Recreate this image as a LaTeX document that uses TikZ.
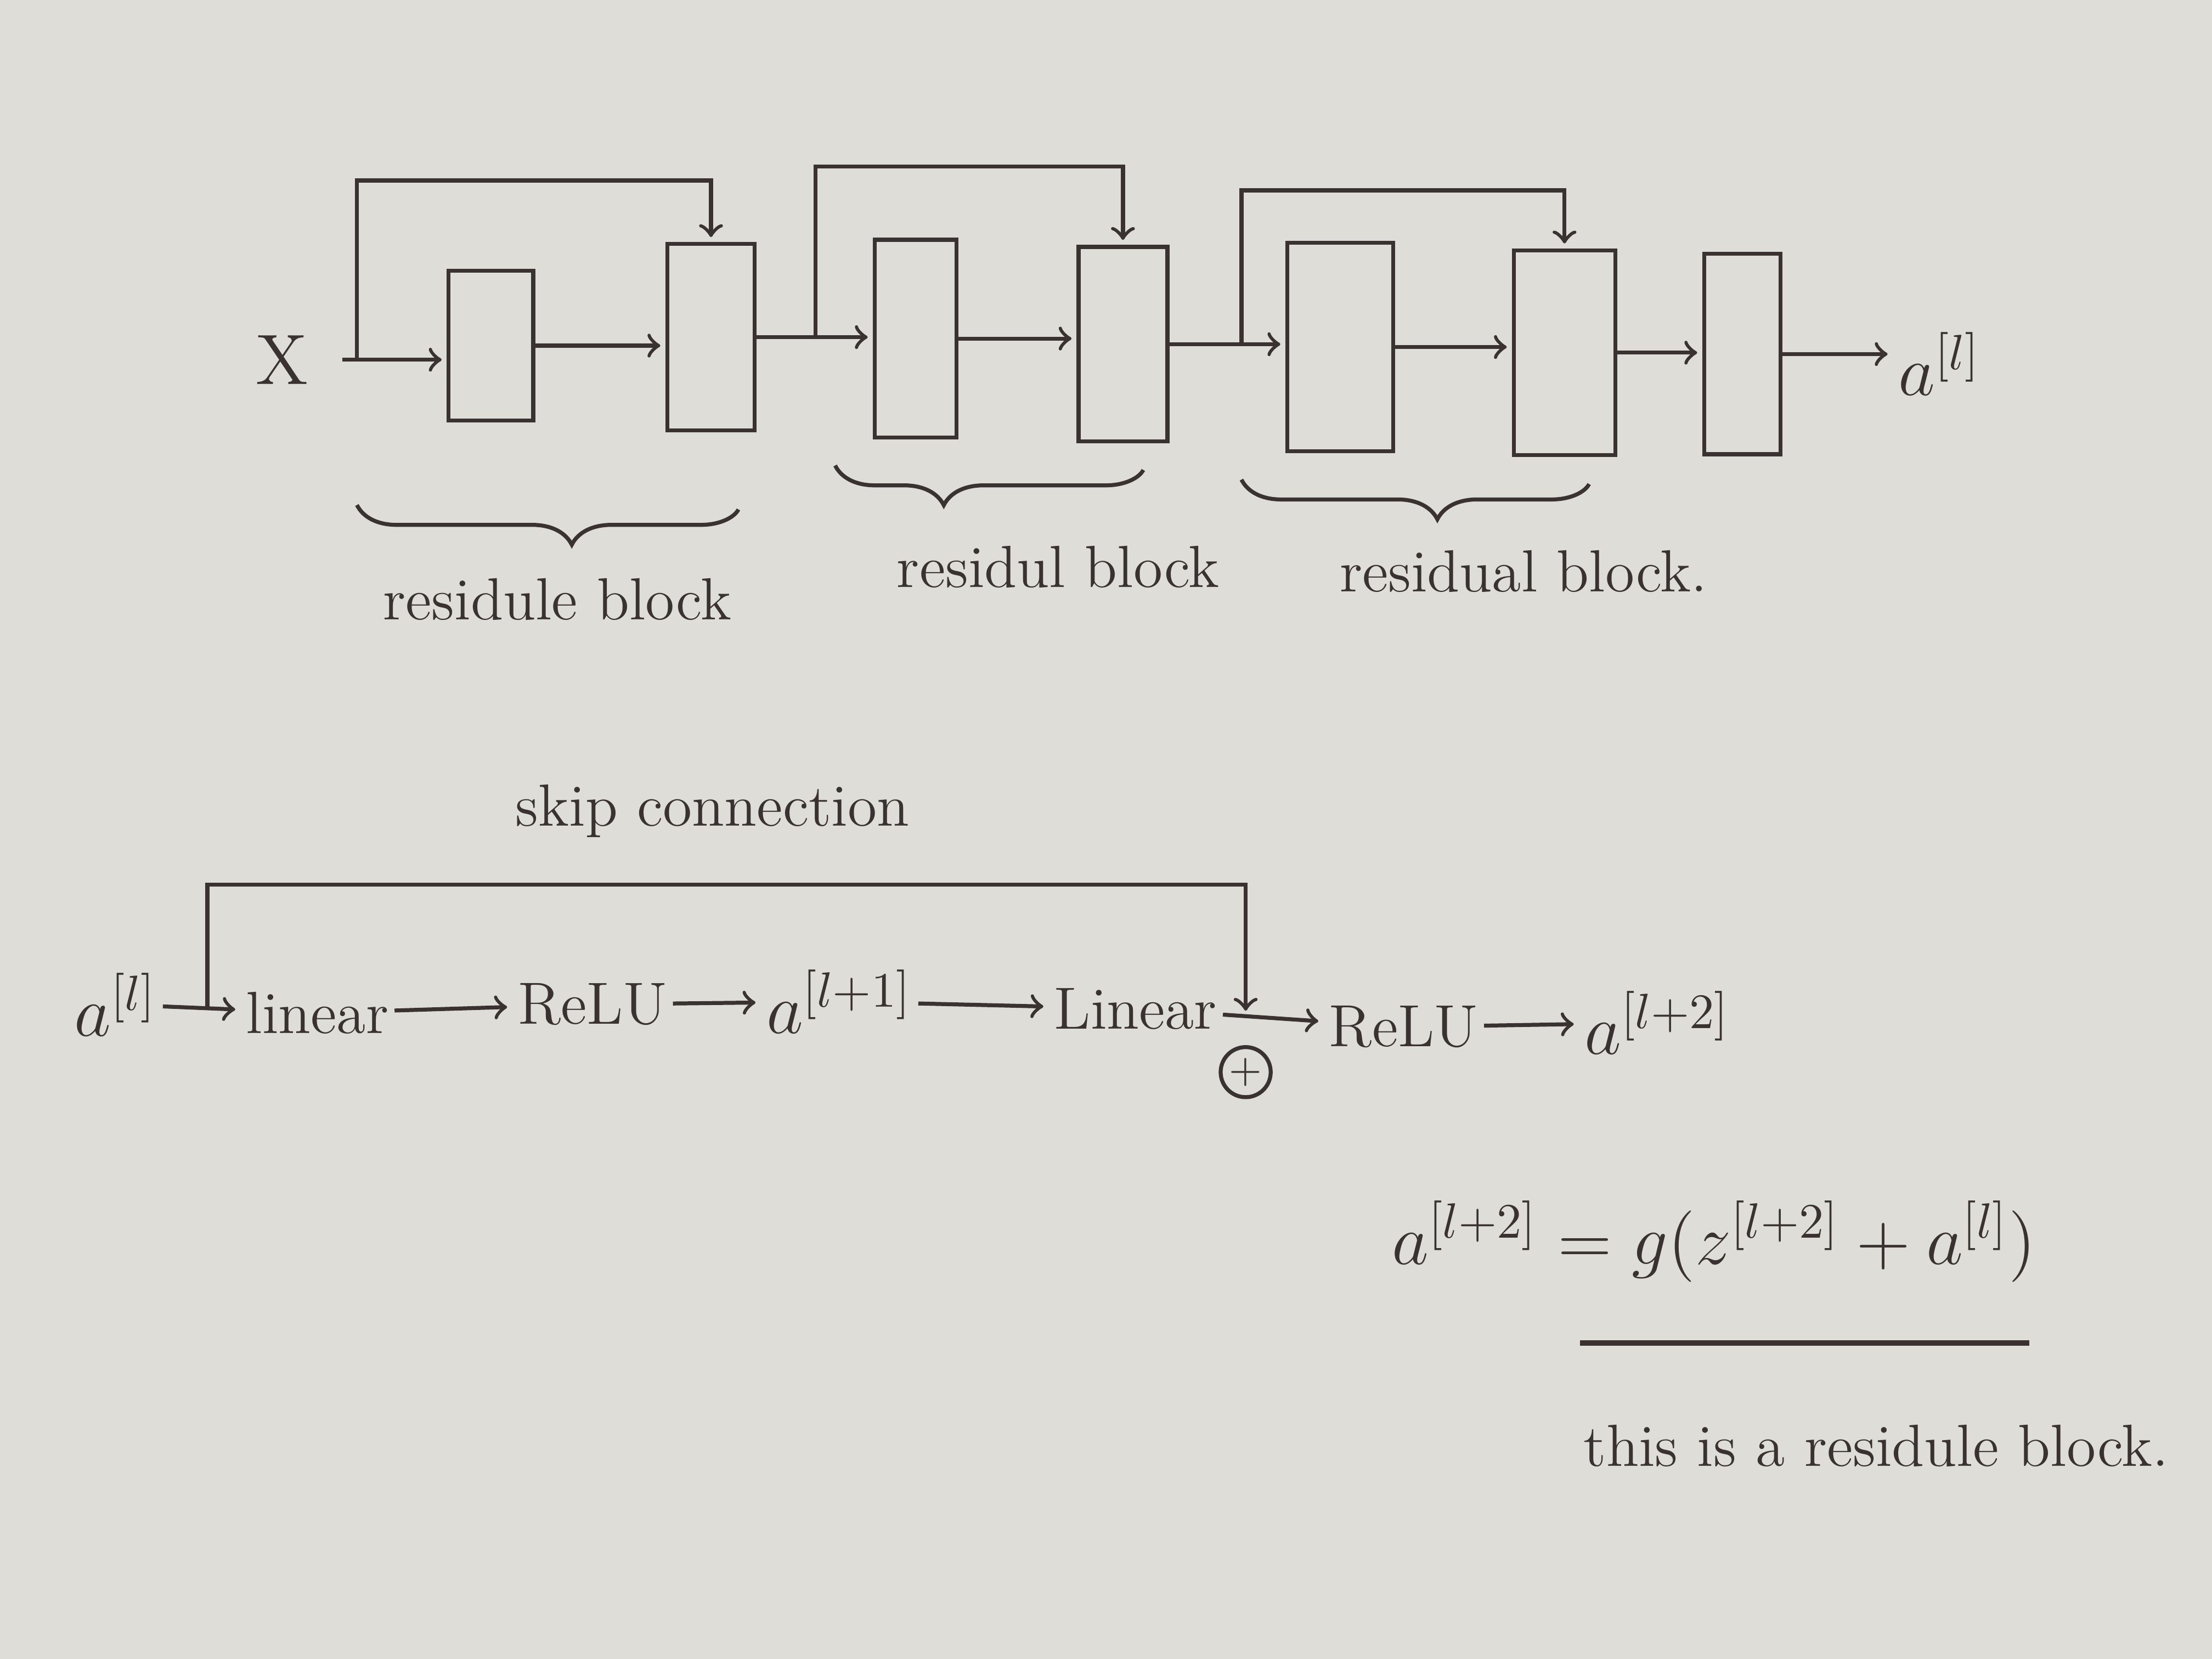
\documentclass[tikz,border=0pt]{standalone}
\usetikzlibrary{decorations.pathreplacing}
\definecolor{ink}{RGB}{58,50,48}
\definecolor{paper}{RGB}{222,221,215}
\begin{document}
\begin{tikzpicture}[shorten >=1pt,->,draw=ink,text=ink]
        \tikzstyle{block}=[rectangle,thick,draw=ink,minimum width=6mm,minimum height=12mm]
        \tikzstyle{edge}=[thick]
        \tikzstyle{word}=[font=\large,inner sep=1pt]
        \tikzstyle{curly}=[draw,thick,-,decorate,decoration={brace,mirror,amplitude=8pt}]
        \fill[paper] (0,0) rectangle (15.68,-11.76);
        \useasboundingbox (0,0) rectangle (15.68,-11.76);
       % stacked residual blocks
       \begin{scope}
         \node [word,font=\Large] (x) at (2.0,-2.55) {X};
         \node [block,minimum width=6.0mm,minimum height=10.6mm] (b1) at (3.48,-2.45) {};
         \node [block,minimum width=6.2mm,minimum height=13.2mm] (b2) at (5.04,-2.39) {};
         \node [block,minimum width=5.8mm,minimum height=14.0mm] (b3) at (6.49,-2.40) {};
         \node [block,minimum width=6.3mm,minimum height=13.8mm] (b4) at (7.96,-2.44) {};
         \node [block,minimum width=7.5mm,minimum height=14.8mm] (b5) at (9.50,-2.46) {};
         \node [block,minimum width=7.2mm,minimum height=14.5mm] (b6) at (11.09,-2.50) {};
         \node [block,minimum width=5.4mm,minimum height=14.2mm] (b7) at (12.35,-2.51) {};
         \node [word,font=\Large] (aout) at (13.75,-2.58) {$a^{[l]}$};

         \path[edge] ([xshift=2mm]x.east) edge (x.east -| b1.west);
         \path[edge] (b1.east) edge (b1.east -| b2.west);
         \path[edge] (b2.east) edge (b2.east -| b3.west);
         \path[edge] (b3.east) edge (b3.east -| b4.west);
         \path[edge] (b4.east) edge (b4.east -| b5.west);
         \path[edge] (b5.east) edge (b5.east -| b6.west);
         \path[edge] (b6.east) edge (b6.east -| b7.west);
         \path[edge] (b7.east) edge (b7.east -| aout.west);

         \coordinate (s1) at (2.53,-2.55);
         \coordinate (t1) at (2.53,-1.28);
         \coordinate (s2) at (5.78,-2.39);
         \coordinate (t2) at (5.78,-1.18);
         \coordinate (s3) at (8.80,-2.44);
         \coordinate (t3) at (8.80,-1.35);
         \draw[edge] (s1) -- (t1) -| (b2.north);
         \draw[edge] (s2) -- (t2) -| (b4.north);
         \draw[edge] (s3) -- (t3) -| (b6.north);

         \draw[curly,decoration={aspect=0.56}] (2.53,-3.58) -- (5.25,-3.58);
         \draw[curly,decoration={aspect=0.35}] (5.92,-3.30) -- (8.12,-3.30);
         \draw[curly,decoration={aspect=0.56}] (8.80,-3.40) -- (11.28,-3.40);
         \node [word] (r1) at (3.95,-4.25) {residule block};
         \node [word] (r2) at (7.50,-4.02) {residul block};
         \node [word] (r3) at (10.80,-4.05) {residual block.};
        \end{scope}
       % one residual block in detail
       \begin{scope}
         \node [word,font=\Large] (a0) at (0.82,-7.12) {$a^{[l]}$};
         \node [word] (lin1) at (2.25,-7.18) {linear};
         \node [word] (relu1) at (4.20,-7.12) {ReLU};
         \node [word,font=\Large] (a1) at (5.95,-7.10) {$a^{[l+1]}$};
         \node [word] (lin2) at (8.05,-7.15) {Linear};
         \node [word] (relu2) at (9.95,-7.28) {ReLU};
         \node [word,font=\Large] (a2) at (11.75,-7.25) {$a^{[l+2]}$};
         \node [circle,thick,draw=ink,inner sep=0.5pt,font=\footnotesize] (plus) at (8.83,-7.60) {$+$};
         \node [word] (skiplbl) at (5.05,-5.75) {skip connection};

         \path[edge] (a0) edge (lin1);
         \path[edge] (lin1) edge (relu1);
         \path[edge] (relu1) edge (a1);
         \path[edge] (a1) edge (lin2);
         \path[edge] (lin2) edge (relu2);
         \path[edge] (relu2) edge (a2);

         \coordinate (k0) at (1.47,-7.15);
         \coordinate (k1) at (1.47,-6.27);
         \coordinate (j) at (8.83,-7.20);
         \draw[edge] (k0) -- (k1) -| (j);

         \node [word,font=\Large] (eq) at (12.15,-8.80) {$a^{[l+2]} = g(z^{[l+2]} + a^{[l]})$};
         \node [word] (note) at (13.30,-10.25) {this is a residule block.};
         \draw[-,very thick] (11.20,-9.52) -- (14.42,-9.52);
        \end{scope}
      \end{tikzpicture}
\end{document}
